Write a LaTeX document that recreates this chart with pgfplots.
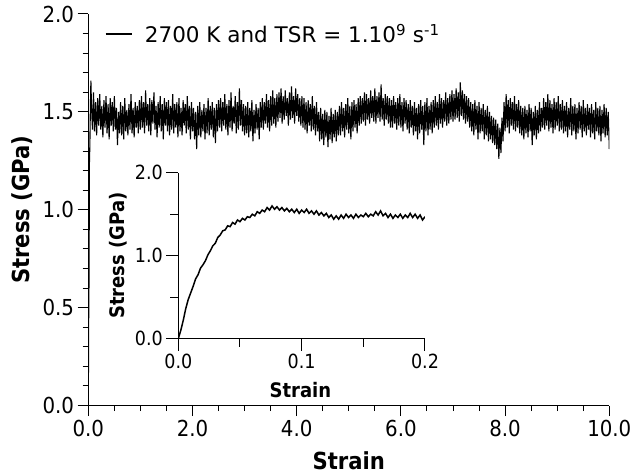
\documentclass[border=0pt]{standalone}
\usepackage{fontspec}
\setmainfont{DejaVu Sans Condensed}
\newfontfamily\legfont{DejaVu Sans}
\usepackage{pgfplots}
\pgfplotsset{compat=1.18}

\pgfplotsset{
  plain/.style={
    scale only axis, axis lines=left, axis line style={-, line width=1pt},
    tick style={line width=1pt, black},
    /pgf/number format/.cd, fixed, fixed zerofill, precision=1, assume math mode=true,
    /pgfplots/.cd,
  },
}

\begin{document}
\begin{tikzpicture}
\useasboundingbox (-88.3pt,-68.5pt) rectangle (546.7pt,405.5pt);

% main panel
\begin{axis}[plain, tick align=outside,
  at={(0pt,0pt)}, anchor=south west,
  width=521pt, height=391.5pt,
  xmin=0, xmax=10, ymin=0, ymax=2,
  xtick={0,2,...,10}, ytick={0,0.5,...,2},
  minor x tick num=3, minor y tick num=4,
  major tick length=10.7pt, minor tick length=5.7pt,
  tick label style={font=\fontsize{22}{24}\selectfont},
  xlabel={\textbf{Strain}}, ylabel={\textbf{Stress (GPa)}},
  label style={font=\fontsize{23.5}{26}\selectfont},
  xlabel style={at={(axis description cs:0.5,-0.1418)}, anchor=center},
  ylabel style={at={(axis description cs:-0.1263,0.5)}, anchor=center},
  legend style={at={(axis description cs:0.032,0.949)}, anchor=west,
    draw=none, fill=none, inner sep=0pt, font=\legfont\fontsize{21.5}{24}\selectfont,
    /tikz/every odd column/.append style={column sep=10pt}},
  legend image code/.code={\draw[#1] (0pt,0pt) -- (26.7pt,0pt);},
]
\addplot[black, line width=1.1pt] coordinates {
(0,0) (0.01,0.58) (0.015,0.62) (0.02,1.22) (0.03,1.33) (0.04,1.52) (0.05,1.66)
(0.06,1.54) (0.08,1.41) (0.10,1.60) (0.12,1.40) (0.14,1.55) (0.16,1.38) (0.18,1.57) (0.20,1.43) (0.22,1.59) (0.24,1.41) (0.26,1.53) (0.28,1.37) (0.30,1.56) (0.32,1.42) (0.34,1.58) (0.36,1.39) (0.38,1.54) (0.40,1.36) (0.42,1.57) (0.44,1.43) (0.46,1.55) (0.48,1.40) (0.50,1.58)
(0.52,1.41) (0.54,1.52) (0.56,1.33) (0.58,1.50) (0.60,1.39) (0.62,1.55) (0.64,1.38) (0.66,1.53) (0.68,1.36) (0.70,1.57) (0.72,1.40) (0.74,1.51) (0.76,1.38) (0.78,1.54) (0.80,1.41) (0.82,1.59) (0.84,1.39) (0.86,1.52) (0.88,1.37) (0.90,1.55) (0.92,1.42) (0.94,1.53) (0.96,1.39) (0.98,1.56) (1.00,1.41)
(1.02,1.58) (1.04,1.42) (1.06,1.55) (1.08,1.39) (1.10,1.61) (1.12,1.43) (1.14,1.54) (1.16,1.40) (1.18,1.57) (1.20,1.38) (1.22,1.56) (1.24,1.44) (1.26,1.60) (1.28,1.41) (1.30,1.53) (1.32,1.37) (1.34,1.55) (1.36,1.42) (1.38,1.58) (1.40,1.40) (1.42,1.54) (1.44,1.36) (1.46,1.57) (1.48,1.43) (1.50,1.55)
(1.52,1.40) (1.54,1.56) (1.56,1.38) (1.58,1.53) (1.60,1.41) (1.62,1.59) (1.64,1.39) (1.66,1.54) (1.68,1.42) (1.70,1.55) (1.72,1.37) (1.74,1.57) (1.76,1.40) (1.78,1.52) (1.80,1.38) (1.82,1.56) (1.84,1.43) (1.86,1.54) (1.88,1.39) (1.90,1.58) (1.92,1.41) (1.94,1.53) (1.96,1.36) (1.98,1.55) (2.00,1.40)
(2.02,1.52) (2.04,1.36) (2.06,1.50) (2.08,1.31) (2.10,1.53) (2.12,1.38) (2.14,1.55) (2.16,1.37) (2.18,1.51) (2.20,1.40) (2.22,1.54) (2.24,1.36) (2.26,1.52) (2.28,1.39) (2.30,1.57) (2.32,1.38) (2.34,1.53) (2.36,1.41) (2.38,1.55) (2.40,1.37) (2.42,1.52) (2.44,1.34) (2.46,1.54) (2.48,1.40) (2.50,1.56)
(2.52,1.42) (2.54,1.57) (2.56,1.40) (2.58,1.55) (2.60,1.43) (2.62,1.59) (2.64,1.41) (2.66,1.54) (2.68,1.38) (2.70,1.56) (2.72,1.42) (2.74,1.60) (2.76,1.40) (2.78,1.53) (2.80,1.44) (2.82,1.58) (2.84,1.39) (2.86,1.55) (2.88,1.41) (2.90,1.62) (2.92,1.43) (2.94,1.56) (2.96,1.40) (2.98,1.54) (3.00,1.38)
(3.02,1.53) (3.04,1.39) (3.06,1.55) (3.08,1.37) (3.10,1.52) (3.12,1.40) (3.14,1.56) (3.16,1.35) (3.18,1.51) (3.20,1.39) (3.22,1.54) (3.24,1.41) (3.26,1.52) (3.28,1.36) (3.30,1.55)
(3.32,1.42) (3.34,1.57) (3.36,1.41) (3.38,1.55) (3.40,1.44) (3.42,1.59) (3.44,1.42) (3.46,1.56) (3.48,1.40) (3.50,1.58) (3.52,1.43) (3.54,1.61) (3.56,1.44) (3.58,1.57) (3.60,1.42)
(3.62,1.59) (3.64,1.45) (3.66,1.60) (3.68,1.47) (3.70,1.62) (3.72,1.44) (3.74,1.58) (3.76,1.46) (3.78,1.61) (3.80,1.48) (3.82,1.57) (3.84,1.43) (3.86,1.60) (3.88,1.46) (3.90,1.63) (3.92,1.47) (3.94,1.58) (3.96,1.44) (3.98,1.62) (4.00,1.48) (4.02,1.59) (4.04,1.45) (4.06,1.57) (4.08,1.43) (4.10,1.58)
(4.12,1.42) (4.14,1.57) (4.16,1.41) (4.18,1.55) (4.20,1.39) (4.22,1.56) (4.24,1.43) (4.26,1.54) (4.28,1.40) (4.30,1.58) (4.32,1.41) (4.34,1.53) (4.36,1.38) (4.38,1.55) (4.40,1.40)
(4.42,1.50) (4.44,1.35) (4.46,1.52) (4.48,1.36) (4.50,1.49) (4.52,1.33) (4.54,1.51) (4.56,1.37) (4.58,1.50) (4.60,1.32) (4.62,1.48) (4.64,1.36) (4.66,1.52) (4.68,1.34) (4.70,1.49) (4.72,1.37) (4.74,1.51) (4.76,1.35) (4.78,1.50) (4.80,1.38)
(4.82,1.53) (4.84,1.38) (4.86,1.55) (4.88,1.40) (4.90,1.52) (4.92,1.37) (4.94,1.54) (4.96,1.41) (4.98,1.57) (5.00,1.39) (5.02,1.53) (5.04,1.36) (5.06,1.55) (5.08,1.40) (5.10,1.56) (5.12,1.42) (5.14,1.54) (5.16,1.39) (5.18,1.57) (5.20,1.43)
(5.22,1.58) (5.24,1.44) (5.26,1.57) (5.28,1.45) (5.30,1.60) (5.32,1.43) (5.34,1.59) (5.36,1.46) (5.38,1.57) (5.40,1.44) (5.42,1.61) (5.44,1.47) (5.46,1.58) (5.48,1.45) (5.50,1.62) (5.52,1.44) (5.54,1.58) (5.56,1.47) (5.58,1.60) (5.60,1.45) (5.62,1.64) (5.64,1.46) (5.66,1.57) (5.68,1.43) (5.70,1.59) (5.72,1.46) (5.74,1.58) (5.76,1.44) (5.78,1.57) (5.80,1.42)
(5.82,1.56) (5.84,1.42) (5.86,1.58) (5.88,1.44) (5.90,1.55) (5.92,1.41) (5.94,1.57) (5.96,1.43) (5.98,1.59) (6.00,1.42) (6.02,1.55) (6.04,1.40) (6.06,1.57) (6.08,1.44) (6.10,1.56) (6.12,1.41) (6.14,1.54) (6.16,1.39) (6.18,1.56) (6.20,1.42)
(6.22,1.53) (6.24,1.38) (6.26,1.55) (6.28,1.40) (6.30,1.52) (6.32,1.36) (6.34,1.54) (6.36,1.39) (6.38,1.56) (6.40,1.41) (6.42,1.53) (6.44,1.33) (6.46,1.55) (6.48,1.40) (6.50,1.57) (6.52,1.38) (6.54,1.53) (6.56,1.41) (6.58,1.55) (6.60,1.39)
(6.62,1.56) (6.64,1.42) (6.66,1.58) (6.68,1.43) (6.70,1.55) (6.72,1.41) (6.74,1.59) (6.76,1.44) (6.78,1.57) (6.80,1.42) (6.82,1.56) (6.84,1.45) (6.86,1.60) (6.88,1.43) (6.90,1.57) (6.92,1.44) (6.94,1.59) (6.96,1.46) (6.98,1.61) (7.00,1.45)
(7.02,1.59) (7.04,1.46) (7.06,1.62) (7.08,1.47) (7.10,1.60) (7.12,1.45) (7.14,1.65) (7.16,1.48) (7.18,1.61) (7.20,1.46) (7.22,1.59) (7.24,1.44) (7.26,1.58) (7.28,1.45) (7.30,1.57)
(7.32,1.42) (7.34,1.55) (7.36,1.40) (7.38,1.54) (7.40,1.38) (7.42,1.56) (7.44,1.41) (7.46,1.53) (7.48,1.36) (7.50,1.55) (7.52,1.39) (7.54,1.52) (7.56,1.40) (7.58,1.54) (7.60,1.36) (7.62,1.51) (7.64,1.38) (7.66,1.53) (7.68,1.35) (7.70,1.50)
(7.72,1.36) (7.74,1.48) (7.76,1.34) (7.78,1.47) (7.80,1.33) (7.82,1.46) (7.84,1.31) (7.86,1.44) (7.88,1.26) (7.90,1.42) (7.92,1.29) (7.94,1.47) (7.96,1.35)
(7.98,1.55) (8.00,1.40) (8.02,1.59) (8.04,1.42) (8.06,1.56) (8.08,1.39) (8.10,1.57) (8.12,1.43) (8.14,1.55) (8.16,1.41) (8.18,1.58) (8.20,1.40) (8.22,1.54) (8.24,1.42) (8.26,1.56) (8.28,1.39) (8.30,1.53)
(8.32,1.38) (8.34,1.52) (8.36,1.36) (8.38,1.53) (8.40,1.39) (8.42,1.51) (8.44,1.37) (8.46,1.54) (8.48,1.40) (8.50,1.52) (8.52,1.33) (8.54,1.50) (8.56,1.38) (8.58,1.53) (8.60,1.36) (8.62,1.51) (8.64,1.39) (8.66,1.55) (8.68,1.40) (8.70,1.52)
(8.72,1.42) (8.74,1.57) (8.76,1.41) (8.78,1.55) (8.80,1.43) (8.82,1.59) (8.84,1.40) (8.86,1.56) (8.88,1.42) (8.90,1.54) (8.92,1.39) (8.94,1.57) (8.96,1.41) (8.98,1.55) (9.00,1.43) (9.02,1.58) (9.04,1.40) (9.06,1.54) (9.08,1.41) (9.10,1.56)
(9.12,1.39) (9.14,1.53) (9.16,1.40) (9.18,1.55) (9.20,1.37) (9.22,1.52) (9.24,1.41) (9.26,1.57) (9.28,1.38) (9.30,1.53) (9.32,1.40) (9.34,1.54) (9.36,1.36) (9.38,1.52) (9.40,1.39) (9.42,1.55) (9.44,1.41) (9.46,1.53) (9.48,1.37) (9.50,1.56) (9.52,1.40) (9.54,1.52) (9.56,1.38) (9.58,1.54) (9.60,1.41)
(9.62,1.52) (9.64,1.37) (9.66,1.54) (9.68,1.39) (9.70,1.51) (9.72,1.36) (9.74,1.55) (9.76,1.40) (9.78,1.52) (9.80,1.38) (9.82,1.53) (9.84,1.35) (9.86,1.51) (9.88,1.39) (9.90,1.54) (9.92,1.37) (9.94,1.52) (9.96,1.38) (9.98,1.50) (10.00,1.31)
};
\addlegendentry{2700 K and TSR = 1.10\textsuperscript{9} s\textsuperscript{-1}}
\end{axis}

% inset
\begin{axis}[plain, tick align=outside,
  at={(90pt,66.8pt)}, anchor=south west,
  width=246.7pt, height=166pt,
  xmin=0, xmax=0.2, ymin=0, ymax=2,
  xtick={0,0.1,0.2}, ytick={0,1,2},
  minor x tick num=1, minor y tick num=1,
  major tick length=12pt, minor tick length=8pt,
  tick label style={font=\fontsize{19.5}{22}\selectfont},
  xlabel={\textbf{Strain}}, ylabel={\textbf{Stress (GPa)}},
  label style={font=\fontsize{20}{22}\selectfont},
  xlabel style={at={(axis description cs:0.495,-0.312)}, anchor=center},
  ylabel style={at={(axis description cs:-0.245,0.5)}, anchor=center},
]
\addplot[black, line width=1.5pt] coordinates {
(0.000,0.00) (0.002,0.10) (0.004,0.22) (0.006,0.36) (0.008,0.47) (0.010,0.55) (0.012,0.63) (0.014,0.72) (0.016,0.77) (0.018,0.85)
(0.020,0.89) (0.022,0.94) (0.024,1.01) (0.026,1.06) (0.028,1.12) (0.030,1.15) (0.032,1.22) (0.034,1.25) (0.036,1.30) (0.038,1.31)
(0.040,1.36) (0.042,1.35) (0.044,1.40) (0.046,1.38) (0.048,1.43) (0.050,1.41) (0.052,1.45) (0.054,1.43) (0.056,1.47) (0.058,1.46)
(0.060,1.50) (0.062,1.48) (0.064,1.53) (0.066,1.51) (0.068,1.55) (0.070,1.53) (0.072,1.58) (0.074,1.55) (0.076,1.60) (0.078,1.56)
(0.080,1.59) (0.082,1.55) (0.084,1.58) (0.086,1.54) (0.088,1.57) (0.090,1.53) (0.092,1.56) (0.094,1.52) (0.096,1.56) (0.098,1.51)
(0.100,1.55) (0.102,1.52) (0.104,1.56) (0.106,1.51) (0.108,1.54) (0.110,1.50) (0.112,1.54) (0.114,1.49) (0.116,1.52) (0.118,1.48)
(0.120,1.51) (0.122,1.46) (0.124,1.49) (0.126,1.44) (0.128,1.48) (0.130,1.44) (0.132,1.49) (0.134,1.45) (0.136,1.50) (0.138,1.46)
(0.140,1.49) (0.142,1.45) (0.144,1.50) (0.146,1.46) (0.148,1.49) (0.150,1.47) (0.152,1.51) (0.154,1.47) (0.156,1.50) (0.158,1.48)
(0.160,1.53) (0.162,1.49) (0.164,1.54) (0.166,1.48) (0.168,1.51) (0.170,1.46) (0.172,1.50) (0.174,1.45) (0.176,1.49) (0.178,1.46)
(0.180,1.50) (0.182,1.45) (0.184,1.49) (0.186,1.46) (0.188,1.51) (0.190,1.46) (0.192,1.50) (0.194,1.45) (0.196,1.49) (0.198,1.43)
(0.200,1.47)
};
\end{axis}
\end{tikzpicture}
\end{document}
